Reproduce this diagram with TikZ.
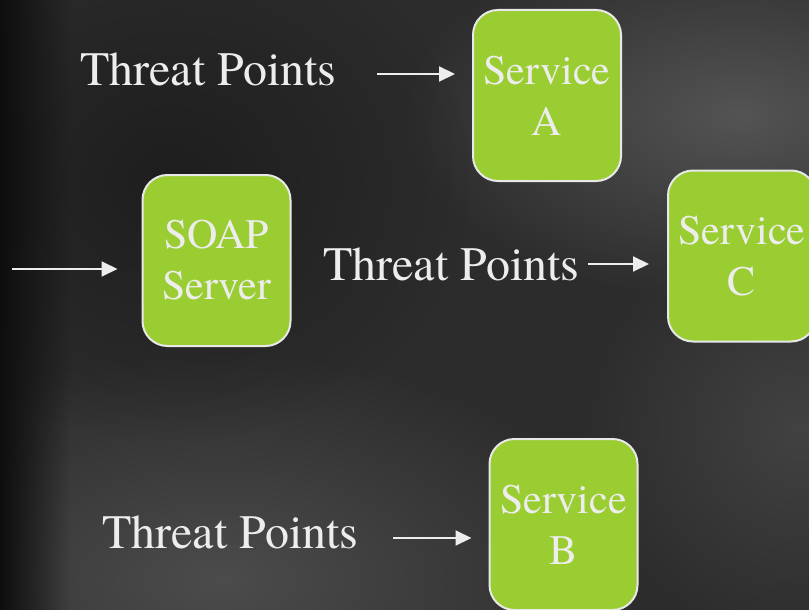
\documentclass[tikz,border=0pt]{standalone}
\usepackage{fontspec}
\newfontfamily\timesface{texgyretermes}[Extension=.otf, UprightFont=*-regular]
\usetikzlibrary{arrows.meta,fadings}

\definecolor{bgbase}{HTML}{2C2C2C}
\definecolor{boxgreen}{HTML}{9ACD32}
\definecolor{ink}{HTML}{EDEDED}
\definecolor{rim}{HTML}{E8E8E8}

% soft spot used to light or darken parts of the backdrop
\tikzfading[name=softspot, inner color=transparent!0, outer color=transparent!100]
\tikzfading[name=fadeoutright, left color=transparent!0, right color=transparent!100]

\tikzset{
  svc/.style={draw=rim, line width=2pt, fill=boxgreen, rounded corners=25pt,
    minimum width=148pt, minimum height=171pt, inner sep=0pt, outer sep=0pt,
    align=center, text=ink, font=\timesface\fontsize{42}{51}\selectfont},
  threat/.style={text=ink, inner sep=0pt, font=\timesface\fontsize{48}{58}\selectfont},
  arr/.style={draw=ink, line width=2pt, -{Triangle[length=16pt,width=15pt]}},
}

\begin{document}
\begin{tikzpicture}[x=1pt,y=-1pt]
  \useasboundingbox (0,0) rectangle (809,610);

  % backdrop
  \fill[bgbase] (0,0) rectangle (809,610);
  \fill[color={rgb,255:red,84;green,84;blue,84}, path fading=softspot]
    (740,115) ellipse [x radius=340, y radius=190];
  \fill[color={rgb,255:red,76;green,76;blue,76}, path fading=softspot]
    (220,580) ellipse [x radius=420, y radius=230];
  \fill[color={rgb,255:red,66;green,66;blue,66}, path fading=softspot]
    (800,430) ellipse [x radius=220, y radius=220];
  \fill[color={rgb,255:red,30;green,30;blue,30}, path fading=softspot]
    (170,180) ellipse [x radius=300, y radius=260];
  \fill[color={rgb,255:red,14;green,14;blue,14}, path fading=fadeoutright]
    (0,0) rectangle (70,610);

  % service boxes
  \node[svc] (svcA) at (547,95.5)  {Service\\A};
  \node[svc] (soap) at (216.5,260.5) {SOAP\\Server};
  \node[svc] (svcC) at (742,256)   {Service\\C};
  \node[svc] (svcB) at (563.5,524.5) {Service\\B};

  % threat labels
  \node[threat, anchor=base west] (tpA) at (80,85)   {Threat Points};
  \node[threat, anchor=base west] (tpC) at (323,280) {Threat Points};
  \node[threat, anchor=base west] (tpB) at (102,548) {Threat Points};

  % arrow start points
  \coordinate (entry) at (12,269);
  \coordinate (inA) at (377,74);
  \coordinate (inC) at (588,264);
  \coordinate (inB) at (393,538);

  % arrows
  \draw[arr, shorten >=25pt] (entry) -- (entry -| soap.west);
  \draw[arr, shorten >=18pt] (inA) -- (inA -| svcA.west);
  \draw[arr, shorten >=19pt] (inC) -- (inC -| svcC.west);
  \draw[arr, shorten >=18pt] (inB) -- (inB -| svcB.west);
\end{tikzpicture}
\end{document}
